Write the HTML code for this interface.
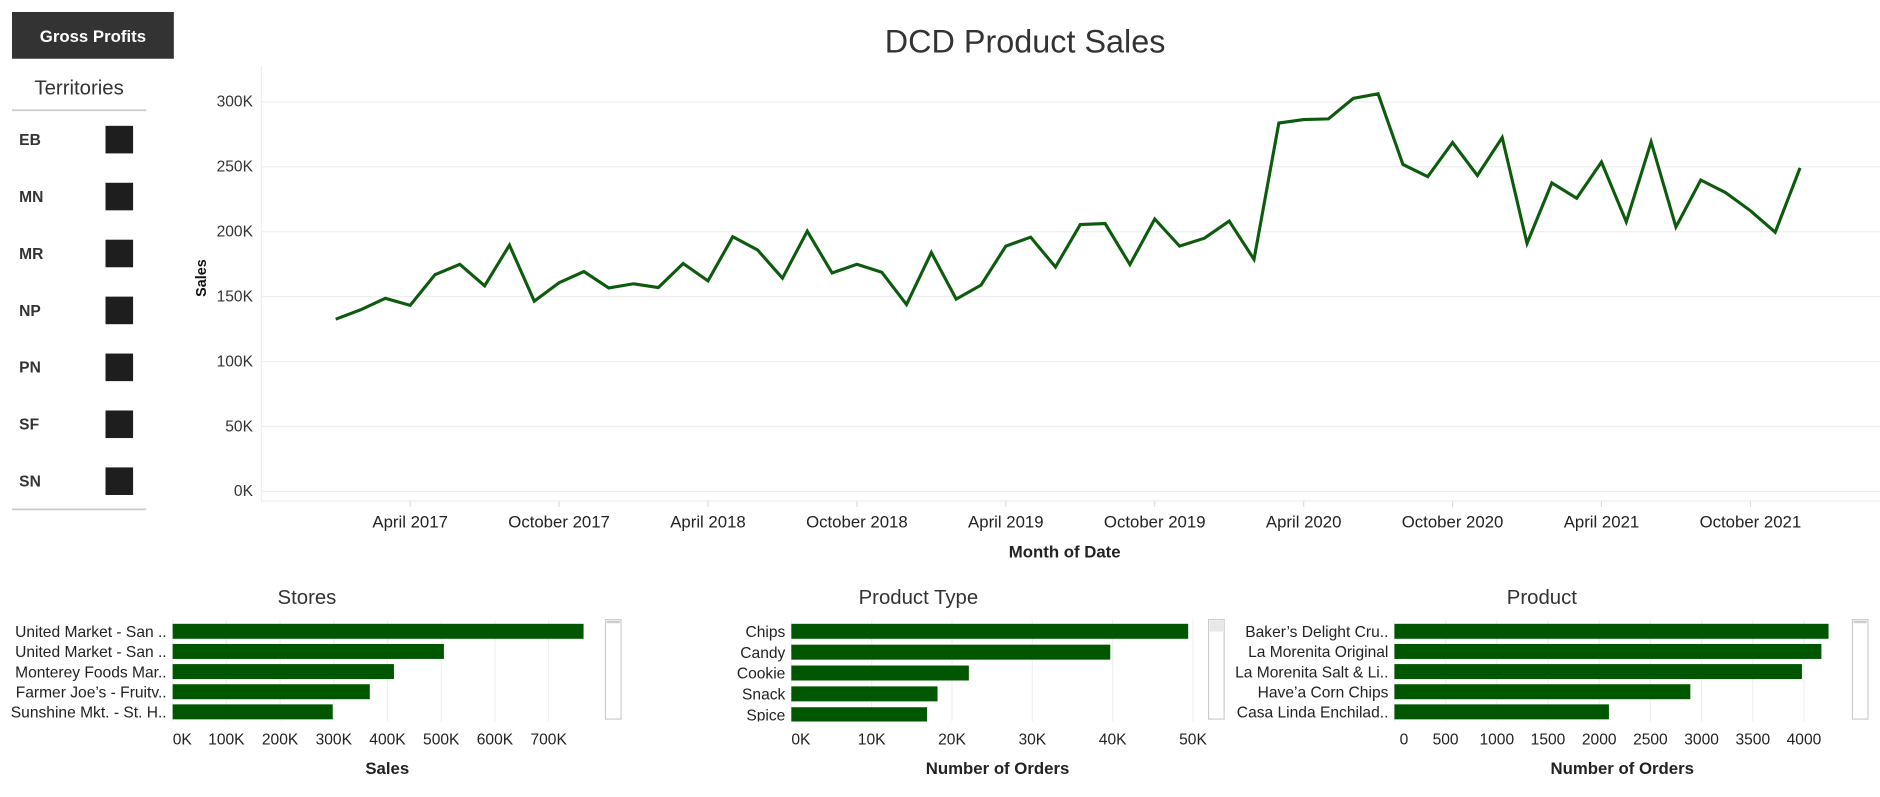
<!DOCTYPE html>
<html><head><meta charset="utf-8"><style>
html,body{margin:0;padding:0;background:#fff;width:1880px;height:797px;overflow:hidden}
svg{display:block}
text{font-family:"Liberation Sans Narrow","Liberation Sans",sans-serif}
</style></head><body>
<svg id="s" width="1880" height="797" viewBox="0 0 1568 665" preserveAspectRatio="none" xmlns="http://www.w3.org/2000/svg">
<g>
<rect x="10" y="10" width="135" height="39" fill="#333"/>
<text x="77.5" y="35" text-anchor="middle" font-size="14" font-weight="bold" fill="#fff">Gross Profits</text>
</g>
<g>
<text x="66" y="79" text-anchor="middle" font-size="17" fill="#333">Territories</text>
<line x1="10" y1="92" x2="122" y2="92" stroke="#ccc" stroke-width="1.5"/>
<line x1="10" y1="425" x2="122" y2="425" stroke="#ccc" stroke-width="1.5"/>
<g id="terr"></g>
</g>
<text x="855" y="44" text-anchor="middle" font-size="27" fill="#333">DCD Product Sales</text>
<g id="line"></g>
<g id="bars"></g>
</svg>
<script>
const NS='http://www.w3.org/2000/svg';
function el(p,t,a,txt){const e=document.createElementNS(NS,t);for(const k in a)e.setAttribute(k,a[k]);if(txt!=null)e.textContent=txt;p.appendChild(e);return e;}

const territories=['EB','MN','MR','NP','PN','SF','SN'];
const sales=[132.6,139.8,148.7,143.3,166.9,174.9,158.3,189.7,146.5,160.7,169.3,156.7,
159.9,157.0,175.5,162.1,196.1,185.9,164.2,200.4,168.2,174.9,168.8,143.9,
184.0,148.1,158.9,188.9,195.8,172.8,205.5,206.3,174.7,209.8,188.9,195.0,
208.2,178.7,283.7,286.4,286.9,302.7,306.2,251.8,242.4,268.7,243.3,272.5,
191.0,237.6,225.8,253.7,207.6,269.2,203.6,239.8,230.1,216.2,199.6,249.1];
const yTicks=[0,50,100,150,200,250,300];
const xTickLabels=['April 2017','October 2017','April 2018','October 2018','April 2019','October 2019','April 2020','October 2020','April 2021','October 2021'];
const xTickIdx=[3,9,15,21,27,33,39,45,51,57];

const storeNames=['United Market - San ..','United Market - San ..','Monterey Foods Mar..','Farmer Joe\u2019s - Fruitv..','Sunshine Mkt. - St. H..'];
const storeSales=[765,505,412,367,298];
const storeTicks=[0,100,200,300,400,500,600,700];
const typeNames=['Chips','Candy','Cookie','Snack','Spice'];
const typeOrders=[49.4,39.7,22.1,18.2,16.9];
const typeTicks=[0,10,20,30,40,50];
const prodNames=['Baker\u2019s Delight Cru..','La Morenita Original','La Morenita Salt & Li..','Have\u2019a Corn Chips','Casa Linda Enchilad..'];
const prodOrders=[4240,4170,3980,2890,2095];
const prodTicks=[0,500,1000,1500,2000,2500,3000,3500,4000];

const tg=document.getElementById('terr');
territories.forEach((t,i)=>{const y=116+i*47.5;
 const g=el(tg,'g',{});
 
 
 el(g,'text',{x:16,y:y+5,'font-size':13,'font-weight':'bold',fill:'#333'},t);
 el(g,'rect',{x:88,y:y-11,width:23,height:23,fill:'#1e1e1e'});
});

const L=document.getElementById('line');
const X=i=>280+(i)*20.7;
const Y=v=>410-v/300*325;
el(L,'line',{x1:218,y1:55,x2:218,y2:418,stroke:'#eee'});
yTicks.forEach(v=>{
 const g=el(L,'line',{x1:218,y1:Y(v),x2:1568,y2:Y(v),stroke:'#eee','stroke-width':1});
 
 const t=el(L,'text',{x:211,y:Y(v)+4,'text-anchor':'end','font-size':13,fill:'#333'},v+'K');
 
});
el(L,'line',{x1:218,y1:418,x2:1568,y2:418,stroke:'#eee'});
xTickIdx.forEach((m,i)=>{
 const t=el(L,'text',{x:X(m),y:440,'text-anchor':'middle','font-size':14,fill:'#222'},xTickLabels[i]);
 
 el(L,'line',{x1:X(m),y1:418,x2:X(m),y2:423,stroke:'#ddd'});
});
const yt=el(L,'text',{x:0,y:0,transform:'translate(172,232) rotate(-90)','text-anchor':'middle','font-size':12,'font-weight':'bold',fill:'#111','font-family':'Liberation Sans'},'Sales');

const xt=el(L,'text',{x:888,y:465,'text-anchor':'middle','font-size':14,'font-weight':'bold',fill:'#222'},'Month of Date');

const pl=el(L,'polyline',{points:sales.map((v,i)=>X(i)+','+Y(v)).join(' '),fill:'none',stroke:'#0d5c0d','stroke-width':2.6,'stroke-linejoin':'miter'});


const B=document.getElementById('bars');
function bars(name,title,titleX,x0,scale,names,vals,ticks,fmt,axisTitle,axisX,sbX,thumb,rowGap){
 const g=el(B,'g',{});
 
 const tt=el(g,'text',{x:titleX,y:504,'text-anchor':'middle','font-size':17,fill:'#333'},title);
 
 ticks.forEach(v=>{el(g,'line',{x1:x0+v*scale,y1:517,x2:x0+v*scale,y2:602,stroke:'#f0f0f0'});
  const t=el(g,'text',{x:x0+v*scale+(v==0?8:0),y:621,'text-anchor':'middle','font-size':13,fill:'#222'},fmt(v));
  });
 const cid='c'+name;const cp=el(g,'clipPath',{id:cid});el(cp,'rect',{x:0,y:515,width:1568,height:87});
 const gg=el(g,'g',{'clip-path':'url(#'+cid+')'});
 names.forEach((n,i)=>{const y=526.5+i*rowGap;
  const r=el(gg,'rect',{x:x0,y:y-6,width:vals[i]*scale,height:12.5,fill:'#015701'});
  
  const t=el(gg,'text',{x:x0-5,y:y+5,'text-anchor':'end','font-size':13,fill:'#222'},n);
  
 });
 const at=el(g,'text',{x:axisX,y:646,'text-anchor':'middle','font-size':14,'font-weight':'bold',fill:'#222'},axisTitle);
 
 const sb=el(g,'rect',{x:sbX,y:517,width:13,height:83,fill:'#fff',stroke:'#ccc'});
 
 if(thumb)el(g,'rect',{x:sbX+1,y:518,width:11,height:9,fill:'#e8e8e8'});
 else el(g,'rect',{x:sbX+1,y:518,width:11,height:2,fill:'#ccc'});
}
bars('stores-chart','Stores',256,144,0.448,storeNames,storeSales,storeTicks,v=>v+'K','Sales',323,505,false,16.8);
bars('product-type-chart','Product Type',766,660,6.7,typeNames,typeOrders,typeTicks,v=>v+'K','Number of Orders',832,1008,true,17.4);
bars('product-chart','Product',1286,1163,0.0854,prodNames,prodOrders,prodTicks,v=>String(v),'Number of Orders',1353,1545,false,16.8);
</script>
</body></html>
